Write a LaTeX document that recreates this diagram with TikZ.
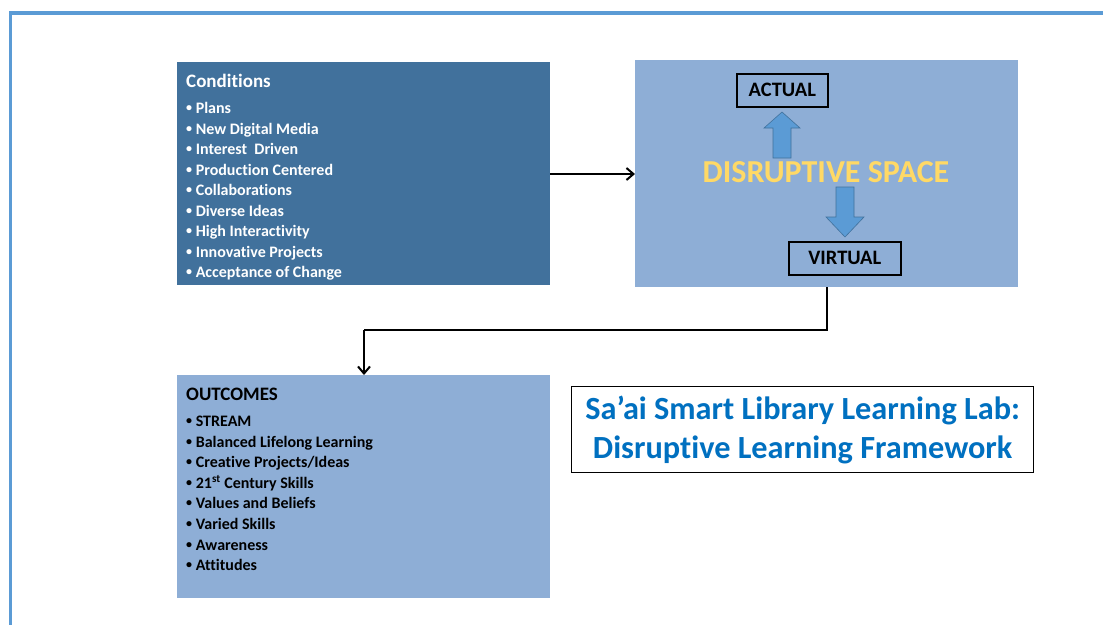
\documentclass[tikz,border=0pt]{standalone}
\usepackage{fontspec}
\setmainfont{Carlito}[Ligatures={NoCommon}]
\usetikzlibrary{arrows.meta}
\definecolor{framebl}{HTML}{5B9BD5}
\definecolor{darkbox}{HTML}{41719C}
\definecolor{lightbox}{HTML}{8EAED6}
\definecolor{blockfill}{HTML}{5B9BD5}
\definecolor{blockedge}{HTML}{41719C}
\definecolor{dsyellow}{HTML}{FFD966}
\definecolor{titleblue}{HTML}{0070C0}
\newcommand{\smbul}{\raisebox{0.12em}{\scalebox{0.75}{•}}}
\tikzset{
  panel/.style={inner sep=0pt, outer sep=0pt},
  head/.style={anchor=base west, inner sep=0pt, font=\fontsize{19}{21}\selectfont\bfseries},
  item/.style={anchor=base west, inner sep=0pt, font=\fontsize{16}{17}\selectfont\bfseries},
  tagbox/.style={draw=black, line width=1.6pt, inner sep=0pt, font=\fontsize{20.5}{22}\selectfont\bfseries},
  blockarrow/.style={fill=blockfill, draw=blockedge, line width=0.6pt},
  conn/.style={draw=black, line width=2pt, -{Straight Barb[length=7pt,width=12pt,line width=2pt]}}
}
\begin{document}
\begin{tikzpicture}[x=1pt,y=-1pt]
\useasboundingbox (0,0) rectangle (1103,625);
\fill[white] (0,0) rectangle (1103,625);
% frame
\fill[framebl] (10,11) rectangle (1103,15);
\fill[framebl] (9,11) rectangle (12,625);
% Conditions box
\node[panel, fill=darkbox, minimum width=373pt, minimum height=223pt, anchor=north west] (cond) at (177,62) {};
\node[head, text=white] (condh) at (186,87) {Conditions};
\foreach \t [count=\i] in {Plans,New Digital Media,Interest\ \ Driven,Production Centered,Collaborations,Diverse Ideas,High Interactivity,Innovative Projects,Acceptance of Change}{
  \node[item, text=white] (ci\i) at (186,{113.5+(\i-1)*20.5}) {\smbul\ \t};
}
% Disruptive space box
\node[panel, fill=lightbox, minimum width=383pt, minimum height=227pt, anchor=north west] (ds) at (635,60) {};
\node[tagbox, minimum width=91pt, minimum height=33pt, anchor=north west] (actual) at (736,73) {ACTUAL};
\node[tagbox, minimum width=112pt, minimum height=33pt, anchor=north west] (virtual) at (788,241) {VIRTUAL};
\node[inner sep=0pt, text=dsyellow, font=\fontsize{32}{34}\selectfont\bfseries] (dstext) at (826,172) {DISRUPTIVE SPACE};
% block arrows
\draw[blockarrow] (773,158) -- (773,128) -- (764,128) -- (782,112) -- (800,128) -- (791,128) -- (791,158) -- cycle;
\draw[blockarrow] (836,187) -- (836,217) -- (826,217) -- (845,237) -- (864,217) -- (854,217) -- (854,187) -- cycle;
% Outcomes box
\node[panel, fill=lightbox, minimum width=373pt, minimum height=223pt, anchor=north west] (out) at (177,375) {};
\node[head, text=black] (outh) at (186,400) {OUTCOMES};
\foreach \t [count=\i] in {STREAM,Balanced Lifelong Learning,Creative Projects/Ideas,21\textsuperscript{st} Century Skills,Values and Beliefs,Varied Skills,Awareness,Attitudes}{
  \node[item, text=black] (oi\i) at (186,{426.5+(\i-1)*20.6}) {\smbul\ \t};
}
% Title box
\node[draw=black, line width=1.3pt, fill=white, minimum width=462pt, minimum height=86pt, anchor=north west, inner sep=0pt] (title) at (571,386) {};
\node[inner sep=0pt, text=titleblue, font=\fontsize{32.3}{39}\selectfont\bfseries, align=center] (titletext) at (title.center) {Sa’ai Smart Library Learning Lab:\\Disruptive Learning Framework};
% connectors
\draw[conn] (cond.east |- 0,174) -- (ds.west |- 0,174);
\coordinate (bend1) at (827,330);
\coordinate (bend2) at (364,330);
\draw[conn, -] (ds.south -| bend1) -- (bend1) -- (bend2);
\draw[conn] (bend2) -- (out.north -| bend2);
\end{tikzpicture}
\end{document}
